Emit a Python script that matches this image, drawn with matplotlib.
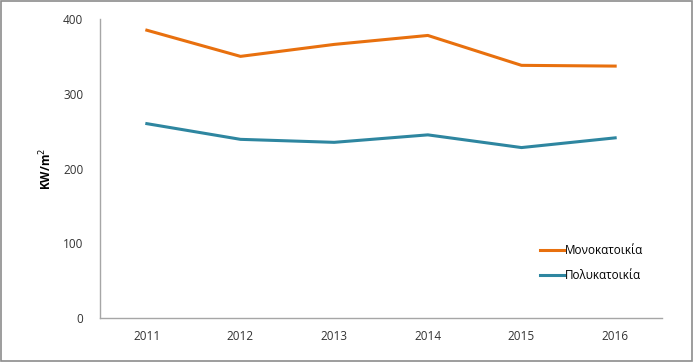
import matplotlib.pyplot as plt
from matplotlib.patches import Rectangle

years = ["2011", "2012", "2013", "2014", "2015", "2016"]
mono = [385, 350, 366, 378, 338, 337]
poly = [260, 239, 235, 245, 228, 241]

plt.rcParams['font.family'] = ['Open Sans', 'DejaVu Sans']

fig = plt.figure(figsize=(6.93, 3.62), dpi=100)
ax = fig.add_axes([100 / 693, 1 - 318 / 362, 562 / 693, 299 / 362])

x = range(len(years))
ax.plot(x, mono, color="#E8700E", lw=2.2, label="Μονοκατοικία")
ax.plot(x, poly, color="#2E86A0", lw=2.2, label="Πολυκατοικία")

ax.set_xlim(-0.5, len(years) - 0.5)
ax.set_ylim(0, 400)
ax.set_yticks([0, 100, 200, 300, 400])
ax.set_xticks(list(x))
ax.set_xticklabels(years)
ax.tick_params(length=0, labelsize=8.5, colors="#333333")
ax.tick_params(axis="x", pad=9)
ax.tick_params(axis="y", pad=12)

for s in ["top", "right"]:
    ax.spines[s].set_visible(False)
for s in ["left", "bottom"]:
    ax.spines[s].set_color("#A6A6A6")
    ax.spines[s].set_linewidth(1)

ax.set_ylabel("KW/m$^2$", fontsize=8.5, fontweight="bold", labelpad=6)

ax.legend(loc="lower right", bbox_to_anchor=(0.985, 0.085), frameon=False,
          fontsize=8.5, handlelength=2.0, handletextpad=0.1, labelspacing=1.0)

fig.patches.append(Rectangle((0.002, 0.003), 0.996, 0.994, transform=fig.transFigure,
                             fill=False, edgecolor="#8C8C8C", lw=1.2))

fig.savefig("out.png", dpi=100)
